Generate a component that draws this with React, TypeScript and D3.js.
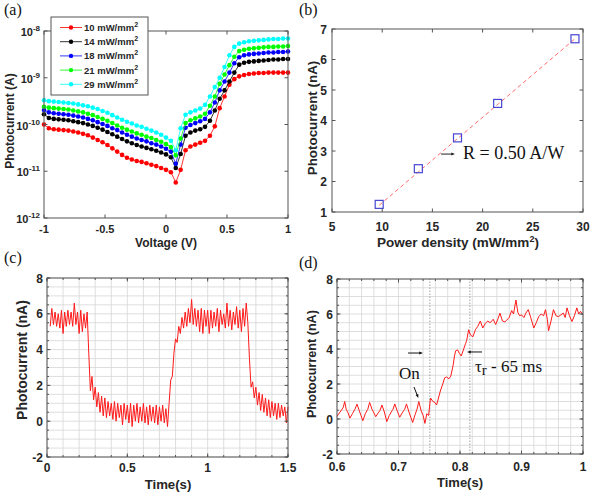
import React from "react";
import * as d3 from "d3";

// ---------- DATA ----------
const voltage = [-1, -0.96, -0.92, -0.88, -0.84, -0.8, -0.76, -0.72, -0.68, -0.64, -0.6, -0.56, -0.52, -0.48, -0.44, -0.4, -0.36, -0.32, -0.28, -0.24, -0.2, -0.16, -0.12, -0.08, -0.04, 0, 0.04, 0.08, 0.12, 0.16, 0.2, 0.24, 0.28, 0.32, 0.36, 0.4, 0.44, 0.48, 0.52, 0.56, 0.6, 0.64, 0.68, 0.72, 0.76, 0.8, 0.84, 0.88, 0.92, 0.96, 1];
// log10 of photocurrent (A)
const logI10 = [-10.0, -10.08, -10.1, -10.11, -10.12, -10.13, -10.15, -10.17, -10.2, -10.23, -10.28, -10.33, -10.38, -10.44, -10.51, -10.58, -10.65, -10.71, -10.75, -10.78, -10.8, -10.83, -10.86, -10.89, -10.93, -10.97, -11.02, -11.24, -10.97, -10.55, -10.47, -10.43, -10.39, -10.35, -10.24, -10.04, -9.65, -9.4, -9.15, -9.03, -8.97, -8.94, -8.92, -8.91, -8.9, -8.9, -8.89, -8.89, -8.89, -8.89, -8.89];
const logI14 = [-9.78, -9.86, -9.88, -9.89, -9.9, -9.91, -9.93, -9.95, -9.97, -10.0, -10.03, -10.07, -10.11, -10.16, -10.21, -10.26, -10.31, -10.36, -10.4, -10.44, -10.47, -10.5, -10.53, -10.56, -10.6, -10.64, -10.7, -10.93, -10.63, -10.24, -10.17, -10.13, -10.1, -10.05, -9.92, -9.7, -9.45, -9.27, -9.08, -8.89, -8.72, -8.68, -8.66, -8.65, -8.64, -8.63, -8.62, -8.61, -8.61, -8.6, -8.6];
const logI18 = [-9.69, -9.74, -9.76, -9.77, -9.78, -9.79, -9.81, -9.83, -9.85, -9.88, -9.91, -9.95, -9.99, -10.03, -10.08, -10.12, -10.17, -10.22, -10.26, -10.3, -10.33, -10.36, -10.4, -10.43, -10.47, -10.52, -10.58, -10.84, -10.43, -10.07, -10.01, -9.97, -9.93, -9.88, -9.74, -9.53, -9.27, -9.08, -8.89, -8.69, -8.56, -8.52, -8.5, -8.49, -8.48, -8.47, -8.46, -8.46, -8.45, -8.45, -8.44];
const logI21 = [-9.62, -9.64, -9.65, -9.66, -9.67, -9.68, -9.7, -9.72, -9.74, -9.77, -9.8, -9.84, -9.88, -9.92, -9.97, -10.02, -10.07, -10.11, -10.15, -10.19, -10.22, -10.26, -10.29, -10.33, -10.37, -10.42, -10.48, -10.66, -10.3, -9.97, -9.91, -9.87, -9.83, -9.77, -9.6, -9.4, -9.13, -8.93, -8.73, -8.55, -8.43, -8.4, -8.38, -8.37, -8.36, -8.35, -8.34, -8.34, -8.33, -8.33, -8.32];
const logI29 = [-9.48, -9.5, -9.51, -9.52, -9.53, -9.54, -9.55, -9.57, -9.59, -9.61, -9.64, -9.67, -9.71, -9.75, -9.8, -9.85, -9.9, -9.94, -9.98, -10.02, -10.05, -10.09, -10.13, -10.17, -10.22, -10.28, -10.35, -10.55, -10.08, -9.79, -9.74, -9.7, -9.66, -9.58, -9.4, -9.2, -9.0, -8.77, -8.52, -8.34, -8.27, -8.24, -8.22, -8.21, -8.2, -8.19, -8.18, -8.17, -8.17, -8.16, -8.16];
const seriesNames = ["10 mW/mm", "14 mW/mm", "18 mW/mm", "21 mW/mm", "29 mW/mm"];
const seriesColors = ["#ff0000", "#000000", "#0000ff", "#00ff00", "#00ffff"];
const seriesLog = [logI10, logI14, logI18, logI21, logI29];

// (b)
const powerDensity = [9.7, 13.6, 17.5, 21.5, 29.2];
const photoB = [1.25, 2.42, 3.43, 4.56, 6.68];
const fitX = [9.7, 29.2];
const fitY = [1.22, 6.68];

// (c) time 0.02..1.50 step 0.01
const timeC = [0.02, 0.03, 0.04, 0.05, 0.06, 0.07, 0.08, 0.09, 0.1, 0.11, 0.12, 0.13, 0.14, 0.15, 0.16, 0.17, 0.18, 0.19, 0.2, 0.21, 0.22, 0.23, 0.24, 0.25, 0.26, 0.27, 0.28, 0.29, 0.3, 0.31, 0.32, 0.33, 0.34, 0.35, 0.36, 0.37, 0.38, 0.39, 0.4, 0.41, 0.42, 0.43, 0.44, 0.45, 0.46, 0.47, 0.48, 0.49, 0.5, 0.51, 0.52, 0.53, 0.54, 0.55, 0.56, 0.57, 0.58, 0.59, 0.6, 0.61, 0.62, 0.63, 0.64, 0.65, 0.66, 0.67, 0.68, 0.69, 0.7, 0.71, 0.72, 0.73, 0.74, 0.75, 0.76, 0.77, 0.78, 0.79, 0.8, 0.81, 0.82, 0.83, 0.84, 0.85, 0.86, 0.87, 0.88, 0.89, 0.9, 0.91, 0.92, 0.93, 0.94, 0.95, 0.96, 0.97, 0.98, 0.99, 1.0, 1.01, 1.02, 1.03, 1.04, 1.05, 1.06, 1.07, 1.08, 1.09, 1.1, 1.11, 1.12, 1.13, 1.14, 1.15, 1.16, 1.17, 1.18, 1.19, 1.2, 1.21, 1.22, 1.23, 1.24, 1.25, 1.26, 1.27, 1.28, 1.29, 1.3, 1.31, 1.32, 1.33, 1.34, 1.35, 1.36, 1.37, 1.38, 1.39, 1.4, 1.41, 1.42, 1.43, 1.44, 1.45, 1.46, 1.47, 1.48, 1.49, 1.5];
const currentC = [5.3, 6.3, 5.4, 6.1, 5.3, 6.0, 5.2, 6.2, 4.9, 6.1, 5.3, 6.2, 5.4, 6.1, 5.3, 6.6, 5.4, 6.1, 4.9, 6.2, 5.0, 6.0, 5.2, 6.1, 3.8, 1.7, 2.5, 1.2, 1.9, 0.8, 1.6, 0.5, 1.4, 0.3, 1.3, 0.2, 1.1, 0.3, 1.0, 0.1, 1.1, 0.0, 1.0, 0.2, 0.9, -0.2, 1.0, 0.1, 0.9, -0.1, 1.0, -0.3, 0.9, 0.0, 1.0, -0.1, 0.8, 0.0, 1.0, -0.1, 0.8, -0.2, 0.9, 0.0, 0.8, -0.1, 0.9, -0.2, 0.8, 0.0, 0.9, -0.1, 0.7, -0.3, 1.0, 2.3, 2.5, 3.8, 4.6, 4.4, 5.3, 4.9, 5.8, 5.2, 6.1, 5.3, 6.3, 5.5, 6.8, 5.4, 6.3, 5.3, 6.2, 5.0, 6.3, 4.9, 6.2, 5.3, 6.2, 4.9, 6.2, 5.2, 6.1, 5.3, 6.3, 5.0, 6.2, 5.4, 6.0, 5.2, 6.6, 5.3, 6.2, 5.1, 6.1, 5.4, 6.4, 5.2, 6.2, 5.0, 6.3, 5.3, 6.6, 5.5, 3.5, 1.9, 2.2, 1.3, 1.9, 0.9, 1.6, 0.6, 1.5, 0.5, 1.3, 0.3, 1.2, 0.2, 1.1, 0.3, 1.0, 0.1, 1.0, 0.2, 0.9, 0.3, 0.8, -0.1, 0.8];

// (d)
const timeD = [0.6, 0.605, 0.61, 0.6125, 0.615, 0.618, 0.621, 0.625, 0.629, 0.6325, 0.636, 0.639, 0.642, 0.646, 0.65, 0.653, 0.657, 0.66, 0.663, 0.667, 0.67, 0.673, 0.677, 0.681, 0.685, 0.689, 0.691, 0.694, 0.698, 0.702, 0.706, 0.71, 0.713, 0.717, 0.72, 0.723, 0.727, 0.73, 0.733, 0.737, 0.74, 0.743, 0.746, 0.749, 0.752, 0.756, 0.759, 0.762, 0.765, 0.768, 0.772, 0.775, 0.778, 0.782, 0.785, 0.789, 0.791, 0.793, 0.796, 0.799, 0.802, 0.806, 0.809, 0.811, 0.814, 0.817, 0.821, 0.825, 0.829, 0.833, 0.837, 0.841, 0.845, 0.849, 0.854, 0.858, 0.862, 0.865, 0.869, 0.873, 0.876, 0.88, 0.884, 0.887, 0.891, 0.894, 0.897, 0.9, 0.904, 0.907, 0.911, 0.915, 0.92, 0.924, 0.928, 0.932, 0.936, 0.939, 0.942, 0.944, 0.948, 0.952, 0.956, 0.96, 0.964, 0.968, 0.971, 0.974, 0.978, 0.982, 0.986, 0.99, 0.993, 0.996, 1.0];
const currentD = [0.15, 0.4, 0.65, 1.0, 0.55, 0.35, 0.05, 0.3, 0.55, 0.85, 0.5, 0.2, -0.1, 0.3, 0.55, 0.95, 0.55, 0.35, 0.13, 0.35, 0.5, 0.8, 0.4, -0.15, 0.2, 0.45, 0.55, 0.86, 0.45, 0.1, 0.35, 0.55, 0.86, 0.4, 0.1, -0.2, 0.25, 0.55, 1.0, 0.45, 0.2, -0.25, 0.3, 0.2, 1.2, 1.0, 0.95, 0.8, 1.2, 1.6, 2.0, 2.35, 2.4, 2.3, 2.45, 3.1, 3.6, 3.9, 3.95, 3.75, 3.6, 4.0, 4.3, 4.5, 5.1, 4.8, 4.7, 5.1, 5.3, 5.6, 5.2, 5.45, 5.6, 5.5, 5.7, 5.4, 5.75, 6.05, 5.6, 5.55, 5.65, 5.8, 6.2, 6.0, 6.8, 6.1, 5.9, 5.95, 5.8, 6.05, 6.25, 5.8, 5.2, 5.5, 5.85, 6.0, 5.9, 6.25, 5.7, 5.04, 5.6, 6.25, 5.9, 5.85, 5.95, 6.05, 5.8, 6.35, 5.9, 5.57, 5.9, 6.35, 6.0, 6.15, 5.95];
const markerLinesD = [0.751, 0.816];

// tick values
const ticksAX = [-1, -0.5, 0, 0.5, 1];
const ticksAY = [-12, -11, -10, -9, -8];
const ticksBX = [5, 10, 15, 20, 25, 30];
const ticksBY = [1, 2, 3, 4, 5, 6, 7];
const ticksCX = [0, 0.5, 1, 1.5];
const ticksCY = [-2, 0, 2, 4, 6, 8];
const ticksDX = [0.6, 0.7, 0.8, 0.9, 1];

// ---------- STYLE ----------
const SANS = "'Liberation Sans', Arial, Helvetica, sans-serif";
const SERIF = "'Liberation Serif', 'Times New Roman', Times, serif";
const AXC = "#555555";
const TXT = "#262626";
const GRID = "#d6d6d6";

type Sc = (v: number) => number;

function Frame(p: { x: Sc; y: Sc; x0: number; x1: number; y0: number; y1: number; xt: number[]; yt: number[]; xtMinor?: number[]; ytMinor?: number[] }) {
  const { x, y, x0, x1, y0, y1 } = p;
  const L = 3.5;
  const Lm = 2;
  const els: any[] = [];
  p.xt.forEach((v, i) => {
    const px = x(v);
    els.push(<line key={"xb" + i} x1={px} x2={px} y1={y0} y2={y0 - L} />);
    els.push(<line key={"xt" + i} x1={px} x2={px} y1={y1} y2={y1 + L} />);
  });
  p.yt.forEach((v, i) => {
    const py = y(v);
    els.push(<line key={"yl" + i} x1={x0} x2={x0 + L} y1={py} y2={py} />);
    els.push(<line key={"yr" + i} x1={x1} x2={x1 - L} y1={py} y2={py} />);
  });
  (p.xtMinor || []).forEach((v, i) => {
    const px = x(v);
    els.push(<line key={"xbm" + i} x1={px} x2={px} y1={y0} y2={y0 - Lm} />);
    els.push(<line key={"xtm" + i} x1={px} x2={px} y1={y1} y2={y1 + Lm} />);
  });
  (p.ytMinor || []).forEach((v, i) => {
    const py = y(v);
    els.push(<line key={"ylm" + i} x1={x0} x2={x0 + Lm} y1={py} y2={py} />);
    els.push(<line key={"yrm" + i} x1={x1} x2={x1 - Lm} y1={py} y2={py} />);
  });
  return (
    <g stroke={AXC} strokeWidth={1} fill="none">
      {els}
      <rect x={x0} y={y1} width={x1 - x0} height={y0 - y1} />
    </g>
  );
}

function Arrow(p: { x1: number; y1: number; x2: number; y2: number; color?: string; head?: number }) {
  const c = p.color || "#000";
  const h = p.head || 5;
  const ang = Math.atan2(p.y2 - p.y1, p.x2 - p.x1);
  const a1 = ang + Math.PI - 0.38;
  const a2 = ang + Math.PI + 0.38;
  const pts = [
    [p.x2, p.y2],
    [p.x2 + h * Math.cos(a1), p.y2 + h * Math.sin(a1)],
    [p.x2 + h * Math.cos(a2), p.y2 + h * Math.sin(a2)],
  ];
  return (
    <g>
      <line x1={p.x1} y1={p.y1} x2={p.x2 - Math.cos(ang) * h * 0.6} y2={p.y2 - Math.sin(ang) * h * 0.6} stroke={c} strokeWidth={1} />
      <polygon points={pts.map((q) => q.join(",")).join(" ")} fill={c} />
    </g>
  );
}

const tick = (fs: number) => ({ fontFamily: SANS, fontWeight: 700, fontSize: fs, fill: TXT });
const title = (fs: number) => ({ fontFamily: SANS, fontWeight: 700, fontSize: fs, fill: TXT });

export default function App() {
  // ---- panel a ----
  const xA = d3.scaleLinear().domain([-1, 1]).range([44, 288]);
  const yA = d3.scaleLinear().domain([-12, -8]).range([218, 31]);
  const lineA = (vals: number[]) =>
    d3.line<number>().x((_, i) => xA(voltage[i])).y((d) => yA(d))(vals) || "";

  // ---- panel b ----
  const xB = d3.scaleLinear().domain([5, 30]).range([332, 583]);
  const yB = d3.scaleLinear().domain([1, 7]).range([212, 29]);

  // ---- panel c ----
  const xC = d3.scaleLinear().domain([0, 1.5]).range([47, 288]);
  const yC = d3.scaleLinear().domain([-2, 8]).range([457, 278]);
  const lineC = d3.line<number>().x((_, i) => xC(timeC[i])).y((d) => yC(d))(currentC) || "";
  const minorCX = d3.range(0, 1.5001, 0.1);
  const minorCY = d3.range(-2, 8.001, 0.5);

  // ---- panel d ----
  const xD = d3.scaleLinear().domain([0.6, 1]).range([337, 583]);
  const yD = d3.scaleLinear().domain([-2, 8]).range([454, 279]);
  const lineD = d3.line<number>().x((_, i) => xD(timeD[i])).y((d) => yD(d))(currentD) || "";
  const minorDX = d3.range(0.6, 1.0001, 0.02);
  const minorDY = d3.range(-2, 8.001, 0.5);

  return (
    <svg width={614} height={494} style={{ position: "absolute", left: 0, top: 0, background: "#fff" }} xmlns="http://www.w3.org/2000/svg">
      <rect width={614} height={494} fill="#fff" />

      {/* panel labels */}
      <g style={{ fontFamily: SERIF, fontSize: 16, fill: "#111" }}>
        <text x={4} y={15}>(a)</text>
        <text x={299} y={15}>(b)</text>
        <text x={4} y={263}>(c)</text>
        <text x={299} y={268}>(d)</text>
      </g>

      {/* ================= (a) ================= */}
      <g>
        {seriesLog.map((s, k) => (
          <g key={k}>
            <path d={lineA(s)} fill="none" stroke={seriesColors[k]} strokeWidth={0.8} />
            {s.map((v, i) => (
              <circle key={i} cx={xA(voltage[i])} cy={yA(v)} r={2.3} fill={seriesColors[k]} />
            ))}
          </g>
        ))}
        <Frame x={xA} y={yA} x0={44} x1={288} y0={218} y1={31} xt={ticksAX} yt={ticksAY} />
        {ticksAX.map((v) => (
          <text key={v} x={xA(v)} y={233} textAnchor="middle" style={tick(11)}>{String(v)}</text>
        ))}
        {ticksAY.map((v) => (
          <text key={v} x={40} y={yA(v) + 5} textAnchor="end" style={tick(11)}>
            10<tspan dy={-5} style={{ fontSize: 8 }}>{String(v)}</tspan>
          </text>
        ))}
        <text x={166} y={247} textAnchor="middle" style={title(12)}>Voltage (V)</text>
        <text transform={`translate(14,121) rotate(-90)`} textAnchor="middle" style={title(12)}>Photocurrent (A)</text>
        {/* legend */}
        <rect x={51} y={17} width={97} height={78} fill="#fff" stroke={AXC} strokeWidth={1} />
        {seriesNames.map((n, k) => {
          const ly = 27.5 + k * 14.2;
          return (
            <g key={n}>
              <line x1={60} x2={82} y1={ly} y2={ly} stroke={seriesColors[k]} strokeWidth={0.8} />
              <circle cx={71} cy={ly} r={2.2} fill={seriesColors[k]} />
              <text x={84} y={ly + 3.5} style={{ fontFamily: SANS, fontWeight: 700, fontSize: 9.5, fill: TXT }}>
                {n}
                <tspan dy={-4} style={{ fontSize: 7 }}>2</tspan>
              </text>
            </g>
          );
        })}
      </g>

      {/* ================= (b) ================= */}
      <g>
        <path
          d={d3.line<number>().x((_, i) => xB(fitX[i])).y((d) => yB(d))(fitY) || ""}
          stroke="#ff6b6b"
          strokeWidth={1}
          strokeDasharray="4,3"
          fill="none"
        />
        {powerDensity.map((v, i) => (
          <rect key={i} x={xB(v) - 4} y={yB(photoB[i]) - 4} width={8} height={8} fill="none" stroke="#4646d2" strokeWidth={1.2} />
        ))}
        <Frame x={xB} y={yB} x0={332} x1={583} y0={212} y1={29} xt={ticksBX} yt={ticksBY} />
        {ticksBX.map((v) => (
          <text key={v} x={xB(v)} y={231} textAnchor="middle" style={tick(12)}>{String(v)}</text>
        ))}
        {ticksBY.map((v) => (
          <text key={v} x={327} y={yB(v) + 4.5} textAnchor="end" style={tick(12)}>{String(v)}</text>
        ))}
        <text x={458} y={247} textAnchor="middle" style={title(13.5)}>
          Power density (mW/mm<tspan dy={-5} style={{ fontSize: 9 }}>2</tspan>
          <tspan dy={5}>)</tspan>
        </text>
        <text transform={`translate(317,118) rotate(-90)`} textAnchor="middle" style={title(13.4)}>Photocurrent (nA)</text>
        <Arrow x1={xB(15.86)} y1={yB(2.9)} x2={xB(17.25)} y2={yB(2.9)} color="#222" head={4} />
        <text x={xB(18.05)} y={yB(2.74)} style={{ fontFamily: SERIF, fontSize: 18, fill: "#111" }}>R = 0.50 A/W</text>
      </g>

      {/* ================= (c) ================= */}
      <g>
        <g stroke={GRID} strokeWidth={0.8}>
          {minorCX.map((v, i) => (
            <line key={"gx" + i} x1={xC(v)} x2={xC(v)} y1={457} y2={278} />
          ))}
          {minorCY.map((v, i) => (
            <line key={"gy" + i} x1={47} x2={288} y1={yC(v)} y2={yC(v)} />
          ))}
        </g>
        <path d={lineC} fill="none" stroke="#ff1a1a" strokeWidth={1} />
        <Frame x={xC} y={yC} x0={47} x1={288} y0={457} y1={278} xt={ticksCX} yt={ticksCY} xtMinor={minorCX} ytMinor={minorCY} />
        {ticksCX.map((v) => (
          <text key={v} x={xC(v)} y={472} textAnchor="middle" style={tick(12)}>{String(v)}</text>
        ))}
        {ticksCY.map((v) => (
          <text key={v} x={43} y={yC(v) + 4.5} textAnchor="end" style={tick(12)}>{String(v)}</text>
        ))}
        <text x={168} y={489} textAnchor="middle" style={title(13.2)}>Time(s)</text>
        <text transform={`translate(27,360) rotate(-90)`} textAnchor="middle" style={title(14)}>Photocurrent (nA)</text>
      </g>

      {/* ================= (d) ================= */}
      <g>
        <g stroke={GRID} strokeWidth={0.8}>
          {minorDX.map((v, i) => (
            <line key={"gx" + i} x1={xD(v)} x2={xD(v)} y1={454} y2={279} />
          ))}
          {minorDY.map((v, i) => (
            <line key={"gy" + i} x1={337} x2={583} y1={yD(v)} y2={yD(v)} />
          ))}
        </g>
        {markerLinesD.map((v) => (
          <line key={v} x1={xD(v)} x2={xD(v)} y1={454} y2={279} stroke="#8a8a8a" strokeWidth={0.8} strokeDasharray="1.5,1.5" />
        ))}
        <path d={lineD} fill="none" stroke="#ff1a1a" strokeWidth={1} />
        <Frame x={xD} y={yD} x0={337} x1={583} y0={454} y1={279} xt={ticksDX} yt={ticksCY} xtMinor={minorDX} ytMinor={minorDY} />
        {ticksDX.map((v) => (
          <text key={v} x={xD(v)} y={471} textAnchor="middle" style={tick(12)}>{String(v)}</text>
        ))}
        {ticksCY.map((v) => (
          <text key={v} x={333} y={yD(v) + 4.5} textAnchor="end" style={tick(12)}>{String(v)}</text>
        ))}
        <text x={460} y={487} textAnchor="middle" style={title(13)}>Time(s)</text>
        <text transform={`translate(316,364) rotate(-90)`} textAnchor="middle" style={title(12.6)}>Photocurrent (nA)</text>
        <Arrow x1={xD(0.7155)} y1={yD(3.77)} x2={xD(0.7398)} y2={yD(3.77)} color="#111" head={4} />
        <Arrow x1={xD(0.8358)} y1={yD(3.83)} x2={xD(0.8114)} y2={yD(3.83)} color="#111" head={4} />
        <Arrow x1={xD(0.7252)} y1={yD(1.83)} x2={xD(0.7322)} y2={yD(1.2)} color="#111" head={4} />
        <text x={xD(0.7008)} y={yD(2.29)} style={{ fontFamily: SERIF, fontSize: 17, fill: "#111" }}>On</text>
        <text x={xD(0.8244)} y={yD(2.69)} style={{ fontFamily: SERIF, fontSize: 17, fill: "#111" }}>
          τ<tspan dy={3} style={{ fontSize: 15 }}>r</tspan>
          <tspan dy={-3}> - 65 ms</tspan>
        </text>
      </g>
    </svg>
  );
}
